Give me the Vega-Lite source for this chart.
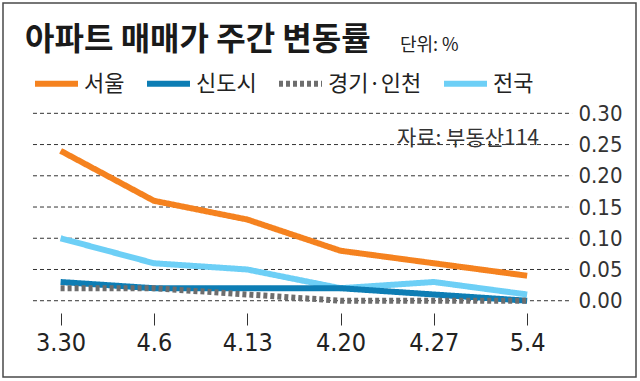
{
  "$schema": "https://vega.github.io/schema/vega-lite/v6.json",
  "width": 633,
  "height": 374,
  "autosize": {"type": "none"},
  "padding": {"left": 3, "top": 3, "right": 4, "bottom": 4},
  "background": "white",
  "config": {"view": {"stroke": "#4a4a4a", "strokeWidth": 1.5}},
  "layer": [
    {
      "data": {"values": [{"v": 0}, {"v": 0.05}, {"v": 0.1}, {"v": 0.15}, {"v": 0.2}, {"v": 0.25}, {"v": 0.3}]},
      "mark": {"type": "rule", "color": "#333333", "strokeWidth": 1, "strokeDash": [4, 3]},
      "encoding": {
        "y": {"field": "v", "type": "quantitative"},
        "x": {"datum": {"year": 2020, "month": 3, "date": 27, "hours": 22, "minutes": 18}, "type": "temporal"},
        "x2": {"datum": {"year": 2020, "month": 5, "date": 7, "hours": 8, "minutes": 53}}
      }
    },
    {
      "data": {"values": [
        {"date": "2020/03/30", "series": "전국", "value": 0.10},
        {"date": "2020/04/06", "series": "전국", "value": 0.06},
        {"date": "2020/04/13", "series": "전국", "value": 0.05},
        {"date": "2020/04/20", "series": "전국", "value": 0.02},
        {"date": "2020/04/27", "series": "전국", "value": 0.03},
        {"date": "2020/05/04", "series": "전국", "value": 0.01},
        {"date": "2020/03/30", "series": "신도시", "value": 0.03},
        {"date": "2020/04/06", "series": "신도시", "value": 0.02},
        {"date": "2020/04/13", "series": "신도시", "value": 0.02},
        {"date": "2020/04/20", "series": "신도시", "value": 0.02},
        {"date": "2020/04/27", "series": "신도시", "value": 0.01},
        {"date": "2020/05/04", "series": "신도시", "value": 0.00},
        {"date": "2020/03/30", "series": "경기·인천", "value": 0.02},
        {"date": "2020/04/06", "series": "경기·인천", "value": 0.02},
        {"date": "2020/04/13", "series": "경기·인천", "value": 0.01},
        {"date": "2020/04/20", "series": "경기·인천", "value": 0.00},
        {"date": "2020/04/27", "series": "경기·인천", "value": 0.00},
        {"date": "2020/05/04", "series": "경기·인천", "value": 0.00},
        {"date": "2020/03/30", "series": "서울", "value": 0.24},
        {"date": "2020/04/06", "series": "서울", "value": 0.16},
        {"date": "2020/04/13", "series": "서울", "value": 0.13},
        {"date": "2020/04/20", "series": "서울", "value": 0.08},
        {"date": "2020/04/27", "series": "서울", "value": 0.06},
        {"date": "2020/05/04", "series": "서울", "value": 0.04}
      ]},
      "mark": {"type": "line", "strokeJoin": "round", "strokeCap": "butt", "strokeWidth": 6},
      "encoding": {
        "x": {
          "field": "date",
          "type": "temporal",
          "scale": {"domain": [{"year": 2020, "month": 3, "date": 25, "hours": 16, "minutes": 18}, {"year": 2020, "month": 5, "date": 12, "hours": 4}]},
          "axis": {
            "title": null,
            "values": [
              {"year": 2020, "month": 3, "date": 30},
              {"year": 2020, "month": 4, "date": 6},
              {"year": 2020, "month": 4, "date": 13},
              {"year": 2020, "month": 4, "date": 20},
              {"year": 2020, "month": 4, "date": 27},
              {"year": 2020, "month": 5, "date": 4}
            ],
            "format": "%-m.%-d",
            "offset": -64,
            "domain": false,
            "grid": false,
            "ticks": true,
            "tickSize": 12,
            "tickColor": "#333333",
            "tickWidth": 1,
            "labelPadding": 5,
            "labelFont": "Liberation Sans Narrow, DejaVu Sans Condensed, sans-serif",
            "labelFontSize": 25,
            "labelColor": "#222222",
            "labelFlush": false,
            "labelOverlap": false
          }
        },
        "y": {
          "field": "value",
          "type": "quantitative",
          "scale": {"domain": [-0.1221, 0.4766], "nice": false, "zero": false},
          "axis": {
            "title": null,
            "orient": "right",
            "offset": -60,
            "values": [0, 0.05, 0.1, 0.15, 0.2, 0.25, 0.3],
            "format": ".2f",
            "domain": false,
            "ticks": false,
            "grid": false,
            "labelPadding": 2,
            "labelFont": "Liberation Sans Narrow, DejaVu Sans Condensed, sans-serif",
            "labelFontSize": 22,
            "labelColor": "#333333",
            "labelFlush": false,
            "labelOverlap": false
          }
        },
        "color": {
          "field": "series",
          "type": "nominal",
          "scale": {
            "domain": ["서울", "신도시", "경기·인천", "전국"],
            "range": ["#f5821f", "#0d7db4", "#6d6d6d", "#6dcff6"]
          },
          "legend": {
            "title": null,
            "orient": "none",
            "direction": "horizontal",
            "legendX": 29,
            "legendY": 56,
            "padding": 0,
            "symbolType": "M-1,0H1",
            "symbolSize": 1849,
            "symbolStrokeWidth": 6,
            "labelOffset": 3,
            "columnPadding": 10,
            "labelFont": "Noto Sans CJK KR",
            "labelFontSize": 22,
            "labelColor": "#222222",
            "labelLimit": 200
          }
        },
        "strokeDash": {
          "field": "series",
          "type": "nominal",
          "scale": {
            "domain": ["서울", "신도시", "경기·인천", "전국"],
            "range": [[1, 0], [1, 0], [4, 3], [1, 0]]
          },
          "legend": null
        }
      }
    },
    {
      "data": {"values": [{"label": "아파트 매매가 주간 변동률"}]},
      "mark": {
        "type": "text",
        "align": "left",
        "baseline": "alphabetic",
        "font": "Noto Sans CJK KR",
        "fontSize": 32,
        "fontWeight": "bold",
        "color": "#1a1a1a"
      },
      "encoding": {
        "text": {"field": "label"},
        "x": {"datum": {"year": 2020, "month": 3, "date": 27, "hours": 8}, "type": "temporal"},
        "y": {"datum": 0.4014, "type": "quantitative"}
      }
    },
    {
      "data": {"values": [{"label": "자료: 부동산114"}]},
      "mark": {
        "type": "text",
        "align": "right",
        "baseline": "middle",
        "font": "Noto Sans CJK KR",
        "fontSize": 21,
        "color": "#333333"
      },
      "encoding": {
        "text": {"field": "label"},
        "x": {"datum": {"year": 2020, "month": 5, "date": 4, "hours": 21, "minutes": 22}, "type": "temporal"},
        "y": {"datum": 0.259, "type": "quantitative"}
      }
    },
    {
      "data": {"values": [{"label": "단위: %"}]},
      "mark": {
        "type": "text",
        "align": "left",
        "baseline": "alphabetic",
        "font": "Noto Sans CJK KR",
        "fontSize": 18,
        "color": "#222222"
      },
      "encoding": {
        "text": {"field": "label"},
        "x": {"datum": {"year": 2020, "month": 4, "date": 24, "hours": 11}, "type": "temporal"},
        "y": {"datum": 0.40, "type": "quantitative"}
      }
    }
  ]
}
